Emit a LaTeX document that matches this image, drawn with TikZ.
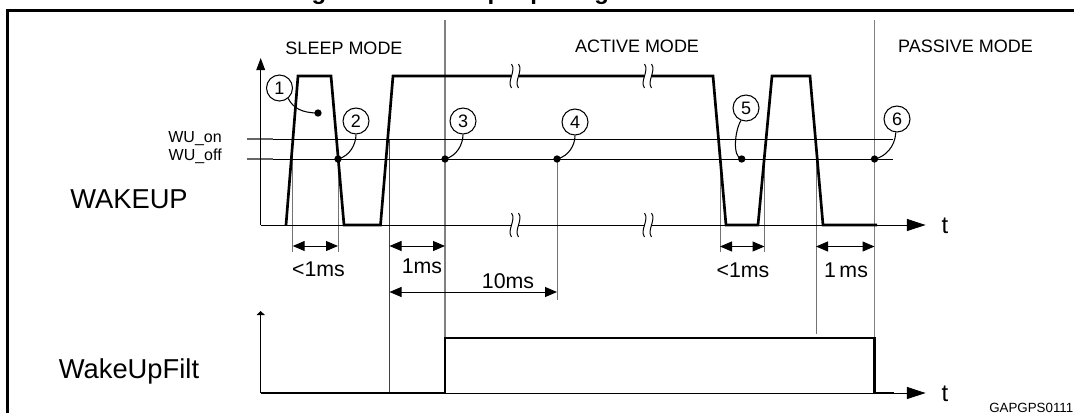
\documentclass[tikz,border=0pt]{standalone}
\usepackage{fontspec}
\setmainfont{Liberation Sans}
\usetikzlibrary{arrows.meta}
\begin{document}
\begin{tikzpicture}[x=0.75pt,y=-0.75pt,
  sig/.style={line width=2pt, line join=miter},
  thinl/.style={line width=0.75pt},
  ext/.style={line width=0.75pt, draw=black!55},
  sepl/.style={line width=0.9pt, draw=black!50},
  dimarr/.style={line width=0.75pt, {Triangle[length=9pt,width=7.5pt]}-{Triangle[length=9pt,width=7.5pt]}},
  dimlbl/.style={font=\fontsize{16}{16}\selectfont, inner sep=0pt},
  modelbl/.style={font=\fontsize{13.5}{13.5}\selectfont, inner sep=0pt},
  siglbl/.style={font=\fontsize{20.5}{20.5}\selectfont, inner sep=0pt},
  wulbl/.style={font=\fontsize{12}{12}\selectfont, inner sep=0pt, anchor=east},
  tlbl/.style={font=\fontsize{18}{18}\selectfont, inner sep=0pt},
  num/.style={circle, draw, line width=0.8pt, minimum size=19.5pt, inner sep=0pt, font=\fontsize{13.5}{13.5}\selectfont},
  dotn/.style={circle, fill, minimum size=5.5pt, inner sep=0pt},
  lead/.style={line width=0.8pt},
  brk/.style={line width=0.75pt},
]
\useasboundingbox (0,0) rectangle (1074,412);
% title (clipped by page) and frame
\node[anchor=base west, font=\bfseries\fontsize{18}{18}\selectfont, inner sep=0pt] (title) at (290,-0.5) {Figure 11. Wakeup input signal filtered};
\draw[line width=1.9pt] (7.5,430) -- (7.5,10.3) -- (1090,10.3);

% mode labels
\node[modelbl] (sleep) at (344,48) {SLEEP MODE};
\node[modelbl] (active) at (637,46) {ACTIVE MODE};
\node[modelbl] (passive) at (965.5,46) {PASSIVE MODE};

% signal labels
\node[siglbl] (wakeup) at (129,199) {WAKEUP};
\node[siglbl] (wakeupfilt) at (129,371.6) {WakeUpFilt};
\node[wulbl] (wuon) at (222,139) {WU\_on};
\node[wulbl] (wuoff) at (222,156) {WU\_off};

% ---------- coordinates ----------
\coordinate (o1) at (260.7,225);
\coordinate (ytip1) at (260.7,58);
\coordinate (ttip1) at (925.6,225);
\coordinate (o2) at (260.7,393);
\coordinate (ytip2) at (260.7,311);
\coordinate (ttip2) at (925.6,393);

% mode separators
\coordinate (s1t) at (445,20); \coordinate (s1b) at (445,338);
\coordinate (s2t) at (874.5,20); \coordinate (s2b) at (874.5,338);
\draw[sepl] (s1t) -- (s1b);
\draw[sepl] (s2t) -- (s2b);

% extension lines
\coordinate (e1t) at (292.7,139); \coordinate (e1b) at (292.7,252);
\coordinate (e2t) at (338,159);   \coordinate (e2b) at (338,252);
\coordinate (e3t) at (389.5,139); \coordinate (e3b) at (389.5,393);
\coordinate (e4t) at (557,159);   \coordinate (e4b) at (557,300);
\coordinate (e5t) at (720,159);   \coordinate (e5b) at (720,252);
\coordinate (e6t) at (764.5,159); \coordinate (e6b) at (764.5,252);
\coordinate (e7t) at (816,139);   \coordinate (e7b) at (816,334);
\draw[ext] (e1t) -- (e1b);
\draw[ext] (e2t) -- (e2b);
\draw[thinl, draw=black!75] (e3t) -- (e3b);
\draw[ext] (e4t) -- (e4b);
\draw[ext] (e5t) -- (e5b);
\draw[ext] (e6t) -- (e6b);
\draw[ext] (e7t) -- (e7b);

% WU threshold lines
\coordinate (wuonL) at (247,139); \coordinate (wuonR) at (893,139);
\coordinate (wuoffL) at (247,159); \coordinate (wuoffR) at (893,159);
\draw[thinl] (wuonL) -- (wuonR);
\draw[thinl] (wuoffL) -- (wuoffR);
\draw[line width=1.1pt, draw=black!60] (wuonL) -- ++(26,0);
\draw[line width=1.1pt, draw=black!60] (wuoffL) -- ++(26,0);

% axes WAKEUP
\draw[thinl, -{Triangle[length=9pt,width=6.5pt]}] (o1) -- (ytip1);
\draw[thinl, -{Triangle[length=14pt,width=9pt]}] (o1) -- (ttip1);
\node[tlbl] (t1) at (945,226) {t};

% WAKEUP signal
\draw[sig] (286,225) -- (298,76) -- (331,76) -- (344,225) -- (380.5,225) -- (393,76)
  -- (713,76) -- (726,225) -- (758,225) -- (772,76) -- (810,76) -- (823,225) -- (877,225);

% break marks
\foreach \bx in {515,648}{
  \foreach \by in {76,225}{
    \fill[white] (\bx-4,\by-3) rectangle (\bx+4,\by+3);
    \draw[brk] (\bx-3.5,\by-12) .. controls (\bx+1.5,\by-5) and (\bx-8.5,\by+5) .. (\bx-3.5,\by+12);
    \draw[brk] (\bx+3.5,\by-12) .. controls (\bx+8.5,\by-5) and (\bx-1.5,\by+5) .. (\bx+3.5,\by+12);
  }
}

% dimension arrows
\coordinate (a1l) at (292.7,246); \coordinate (a1r) at (338,246);
\coordinate (a2l) at (389.5,246); \coordinate (a2r) at (445,246);
\coordinate (a3l) at (389.5,292); \coordinate (a3r) at (557,292);
\coordinate (a4l) at (720,246.5); \coordinate (a4r) at (764.5,246.5);
\coordinate (a5l) at (816,246.5); \coordinate (a5r) at (874.5,246.5);
\draw[dimarr] (a1l) -- (a1r);
\draw[dimarr] (a2l) -- (a2r);
\draw[dimarr] (a3l) -- (a3r);
\draw[dimarr] (a4l) -- (a4r);
\draw[dimarr] (a5l) -- (a5r);
\node[dimlbl] (l1) at (318.5,269) {<1ms};
\node[dimlbl] (l2) at (422,266) {1ms};
\node[dimlbl] (l3) at (508,281) {10ms};
\node[dimlbl] (l4) at (743,270) {<1ms};
\node[dimlbl] (l5) at (846,270) {1\,ms};

% numbered circles and dots
\node[num] (c1) at (279.5,88) {1};
\node[num] (c2) at (356,121) {2};
\node[num] (c3) at (463,121) {3};
\node[num] (c4) at (575,122) {4};
\node[num] (c5) at (746,108) {5};
\node[num] (c6) at (897,119) {6};
\node[dotn] (d1) at (318,113) {};
\node[dotn] (d2) at (338,159) {};
\node[dotn] (d3) at (445,159) {};
\node[dotn] (d4) at (557,159) {};
\node[dotn] (d5) at (741.7,159) {};
\node[dotn] (d6) at (874.5,159) {};
\draw[lead] (c1.-50) .. controls (293,108) and (302,113) .. (d1.center);
\draw[lead] (c2.south) .. controls (356,144) and (350,156) .. (d2.center);
\draw[lead] (c3.south) .. controls (463,144) and (457,156) .. (d3.center);
\draw[lead] (c4.south) .. controls (575,145) and (569,156) .. (d4.center);
\draw[lead] (c5.-112) .. controls (735,130) and (732,157) .. (d5.center);
\draw[lead] (c6.-95) .. controls (895,147) and (885,157) .. (d6.center);

% WakeUpFilt axes and signal
\draw[thinl, -{Triangle[length=3pt,width=6pt]}] (o2) -- (ytip2);
\draw[thinl, -{Triangle[length=14pt,width=9pt]}] (o2) -- (ttip2);
\node[tlbl] (t2) at (945,394) {t};
\draw[sig] (o2) -- (445,393) -- (445,338) -- (874.5,338) -- (874.5,393) -- (894,393);

\node[anchor=west, font=\fontsize{10}{10}\selectfont, inner sep=0pt] (code) at (989,408) {GAPGPS0111};
\end{tikzpicture}
\end{document}
